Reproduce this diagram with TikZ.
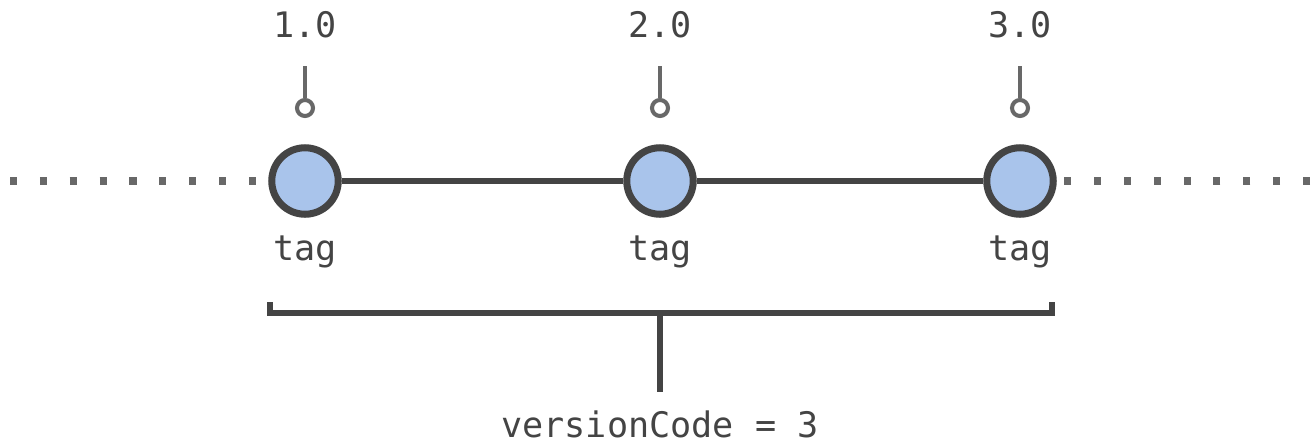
\documentclass[tikz,border=0pt]{standalone}
\usepackage{fontspec}
\setmonofont{DejaVu Sans Mono}
\usetikzlibrary{positioning}
\definecolor{commit}{HTML}{A9C4EB}
\definecolor{dark}{HTML}{444444}
\definecolor{pingray}{HTML}{686868}

\begin{document}
\begin{tikzpicture}[
    x=0.02cm, y=-0.02cm,
    base/.style = {circle, draw=dark, line width=4pt, fill=commit, minimum size=1.33cm, inner sep=0pt},
    tagpin/.style = {circle, draw=pingray, line width=2.3pt, fill=white, minimum size=0.32cm, inner sep=0pt},
    tagline/.style = {draw=pingray, line width=2.3pt},
    label/.style = {font=\ttfamily\fontsize{20}{24}\selectfont, text=dark, anchor=base, inner sep=0pt},
    history/.style = {draw=pingray, line width=4pt, dash pattern=on 4pt off 13pt},
]
    \useasboundingbox (0,0) rectangle (1316,443);

    % commits
    \node[base] (c1) at (305,181) {};
    \node[base] (c2) at (660,181) {};
    \node[base] (c3) at (1020,181) {};
    \draw[dark, line width=3.4pt] (c1) -- (c2);
    \draw[dark, line width=3.4pt] (c2) -- (c3);

    % history outside
    \coordinate (hl) at (10,181);
    \coordinate (hr) at (1310,181);
    \draw[history] (hl) -- (c1.west);
    \draw[history] (hr) -- (c3.east);

    % tags
    \node[tagpin] (p1) at (305,108) {};
    \node[tagpin] (p2) at (660,108) {};
    \node[tagpin] (p3) at (1020,108) {};
    \coordinate (t1) at (305,66);
    \coordinate (t2) at (660,66);
    \coordinate (t3) at (1020,66);
    \draw[tagline] (t1) -- (p1);
    \draw[tagline] (t2) -- (p2);
    \draw[tagline] (t3) -- (p3);
    \node[label] (v1) at (305,37) {1.0};
    \node[label] (v2) at (660,37) {2.0};
    \node[label] (v3) at (1020,37) {3.0};

    % tag labels
    \node[label] (g1) at (305,260) {tag};
    \node[label] (g2) at (660,260) {tag};
    \node[label] (g3) at (1020,260) {tag};

    % bracket
    \coordinate (bl) at (270,302);
    \coordinate (br) at (1052,302);
    \coordinate (bm) at (660,313);
    \coordinate (bs) at (660,392);
    \draw[dark, line width=3.4pt] (bl) |- (bm) -| (br);
    \draw[dark, line width=3.4pt] (bm) -- (bs);
    \node[label] (code) at (660,437) {versionCode = 3};

\end{tikzpicture}
\end{document}
